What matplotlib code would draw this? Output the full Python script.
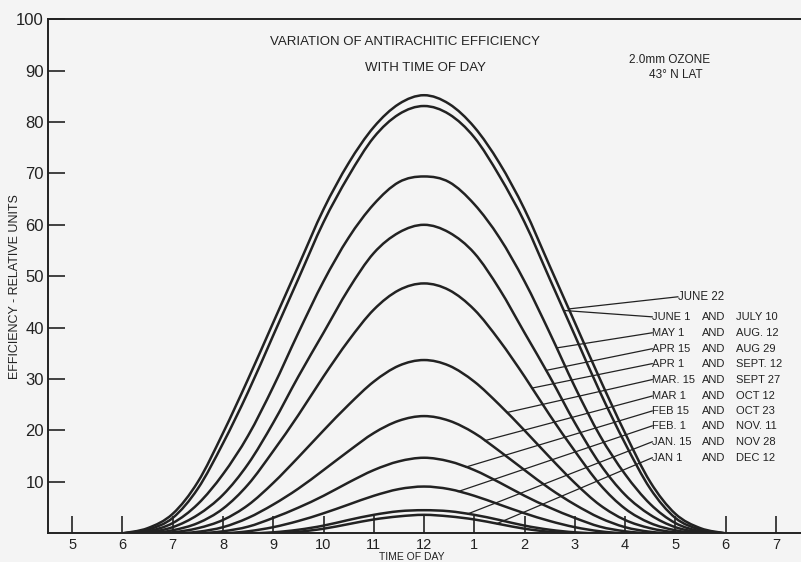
import numpy as np
import matplotlib.pyplot as plt
from matplotlib.path import Path
from matplotlib.patches import PathPatch

plt.rcParams['font.family'] = ['Liberation Sans', 'DejaVu Sans']

# hours of the day, every half hour from 6 a.m. to 6 p.m.
hours = np.arange(6, 18.01, 0.5)

june22 = [0, 1, 3.8, 10, 19.5, 30, 41, 52, 63, 72, 79, 83.5, 85.2, 83.5, 79, 72, 63, 52, 41, 30, 19.5, 10, 3.8, 1, 0]
june1 = [0, 0.7, 3, 8.7, 17.5, 27.5, 38.5, 49.5, 60.5, 69.5, 77, 81.5, 83.1, 81.5, 77, 69.5, 60.5, 49.5, 38.5, 27.5, 17.5, 8.7, 3, 0.7, 0]
may1 = [0, 0.4, 2, 5.7, 11.5, 19, 28.5, 39, 49, 57.5, 64, 68.3, 69.4, 68.3, 64, 57.5, 49, 39, 28.5, 19, 11.5, 5.7, 2, 0.4, 0]
apr15 = [0, 0.2, 1.2, 3.6, 7.5, 13.5, 21.5, 30.5, 39, 47.5, 54.5, 58.5, 60, 58.5, 54.5, 47.5, 39, 30.5, 21.5, 13.5, 7.5, 3.6, 1.2, 0.2, 0]
apr1 = [0, 0, 0.6, 2, 4.8, 9.5, 16, 23, 30.5, 37.5, 43.5, 47.3, 48.6, 47.3, 43.5, 37.5, 30.5, 23, 16, 9.5, 4.8, 2, 0.6, 0, 0]
mar15 = [0, 0, 0.2, 1, 2.6, 5.5, 9.8, 14.8, 20, 25, 29.5, 32.6, 33.7, 32.6, 29.5, 25, 20, 14.8, 9.8, 5.5, 2.6, 1, 0.2, 0, 0]
mar1 = [0, 0, 0, 0.3, 1.2, 3, 5.6, 8.7, 12.3, 16, 19.5, 21.9, 22.8, 21.9, 19.5, 16, 12.3, 8.7, 5.6, 3, 1.2, 0.3, 0, 0, 0]
feb15 = [0, 0, 0, 0, 0.4, 1.3, 3, 5, 7.3, 9.9, 12.3, 14, 14.7, 14, 12.3, 9.9, 7.3, 5, 3, 1.3, 0.4, 0, 0, 0, 0]
feb1 = [0, 0, 0, 0, 0, 0.4, 1.2, 2.4, 3.9, 5.6, 7.3, 8.6, 9.1, 8.6, 7.3, 5.6, 3.9, 2.4, 1.2, 0.4, 0, 0, 0, 0, 0]
jan15 = [0, 0, 0, 0, 0, 0, 0.2, 0.7, 1.5, 2.6, 3.6, 4.3, 4.5, 4.3, 3.6, 2.6, 1.5, 0.7, 0.2, 0, 0, 0, 0, 0, 0]
jan1 = [0, 0, 0, 0, 0, 0, 0, 0.3, 0.9, 1.8, 2.7, 3.3, 3.6, 3.3, 2.7, 1.8, 0.9, 0.3, 0, 0, 0, 0, 0, 0, 0]

curves = [june22, june1, may1, apr15, apr1, mar15, mar1, feb15, feb1, jan15, jan1]

first_dates = ['JUNE 22', 'JUNE 1', 'MAY 1', 'APR 15', 'APR 1', 'MAR. 15',
               'MAR 1', 'FEB 15', 'FEB. 1', 'JAN. 15', 'JAN 1']
second_dates = ['', 'JULY 10', 'AUG. 12', 'AUG 29', 'SEPT. 12', 'SEPT 27',
                'OCT 12', 'OCT 23', 'NOV. 11', 'NOV 28', 'DEC 12']

# where each leader leaves its curve (hour) and the label height (units)
leader_hours = [14.88, 14.78, 14.64, 14.43, 14.15, 13.65, 13.21, 12.83, 12.68, 12.87, 13.45]
label_levels = [46.0, 42.1, 39.0, 35.9, 33.0, 29.9, 26.7, 23.8, 20.9, 17.8, 14.7]

tick_hours = list(range(5, 20))
tick_names = ['5', '6', '7', '8', '9', '10', '11', '12', '1', '2', '3', '4', '5', '6', '7']


def smooth_path(x, y):
    # draw a smooth pen line through the read points (Catmull-Rom as Bezier)
    pts = np.column_stack([x, y])
    ext = np.vstack([pts[0], pts, pts[-1]])
    verts = [pts[0]]
    codes = [Path.MOVETO]
    for i in range(len(pts) - 1):
        p0, p1, p2, p3 = ext[i], ext[i + 1], ext[i + 2], ext[i + 3]
        verts += [p1 + (p2 - p0) / 6, p2 - (p3 - p1) / 6, p2]
        codes += [Path.CURVE4] * 3
    return Path(verts, codes)


fig = plt.figure(figsize=(8.01, 5.62), dpi=100)
fig.patch.set_facecolor('#f4f4f4')
ax = fig.add_axes([0.06, 0.051, 0.94, 0.915])
ax.set_facecolor('#f4f4f4')

ink = '#222222'
for vals in curves:
    ax.add_patch(PathPatch(smooth_path(hours, vals), fill=False, ec=ink, lw=1.8,
                           joinstyle='round', capstyle='round'))

label_x = 16.54
for i, vals in enumerate(curves):
    hx = leader_hours[i]
    hy = np.interp(hx, hours, vals)
    if i == 0:
        ax.plot([hx, 17.05], [hy, label_levels[i]], color=ink, lw=0.9)
        ax.text(17.05, label_levels[i], first_dates[i], fontsize=8.3, va='center', ha='left', color=ink)
    else:
        ax.plot([hx, label_x], [hy, label_levels[i]], color=ink, lw=0.9)
        ax.text(label_x, label_levels[i], first_dates[i], fontsize=8, va='center', ha='left', color=ink)
        ax.text(17.53, label_levels[i], 'AND', fontsize=8, va='center', ha='left', color=ink)
        ax.text(18.2, label_levels[i], second_dates[i], fontsize=8, va='center', ha='left', color=ink)

ax.set_xlim(4.52, 19.5)
ax.set_ylim(0, 100)

ax.spines['right'].set_visible(False)
for s in ['left', 'top', 'bottom']:
    ax.spines[s].set_linewidth(1.4)
    ax.spines[s].set_color(ink)

ax.set_xticks(tick_hours)
ax.set_xticklabels(tick_names)
ax.set_yticks(range(10, 101, 10))
ax.tick_params(axis='x', direction='in', length=12, width=1.2, pad=3, labelsize=10.5, colors=ink)
ax.tick_params(axis='y', direction='in', length=12, width=1.2, pad=3, labelsize=12, colors=ink)

ax.text(11.75, -5.15, 'TIME OF DAY', fontsize=7.5, ha='center', va='baseline', color=ink, clip_on=False)
ax.text(-0.044, 0.479, 'EFFICIENCY - RELATIVE UNITS', transform=ax.transAxes, rotation=90,
        fontsize=9, ha='center', va='center', color=ink)

ax.text(11.62, 95.6, 'VARIATION OF ANTIRACHITIC EFFICIENCY', fontsize=9.5, ha='center', va='center', color=ink)
ax.text(12.02, 90.5, 'WITH TIME OF DAY', fontsize=9.5, ha='center', va='center', color=ink)
ax.text(16.88, 92.1, '2.0mm OZONE', fontsize=8.5, ha='center', va='center', color=ink)
ax.text(17.0, 89.2, '43° N LAT', fontsize=8.5, ha='center', va='center', color=ink)

fig.savefig('out.png', dpi=100, facecolor=fig.get_facecolor())
